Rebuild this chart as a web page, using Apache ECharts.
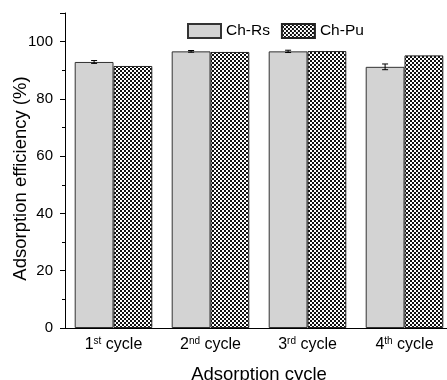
<!DOCTYPE html>
<html><head><meta charset="utf-8">
<script src="https://cdn.jsdelivr.net/npm/echarts@6/dist/echarts.min.js"></script>
<style>html,body{margin:0;padding:0;background:#fff}#c{width:447px;height:380px}</style>
</head><body><div id="c"></div>
<script>
var categories = ['1{sup|st} cycle', '2{sup|nd} cycle', '3{sup|rd} cycle', '4{sup|th} cycle'];
var chRs = [92.9, 96.6, 96.6, 91.2];
var chRsErr = [0.5, 0.3, 0.4, 1.0];
var chPu = [91.5, 96.4, 96.7, 95.2];
var yTicks = [0, 20, 40, 60, 80, 100];

var pc = document.createElement('canvas');
pc.width = 4; pc.height = 4;
var g = pc.getContext('2d');
g.fillStyle = '#111'; g.fillRect(0, 0, 4, 4);
g.fillStyle = '#fff';
g.fillRect(0, 0, 2, 2); g.fillRect(2, 2, 2, 2);
var pattern = { image: pc, repeat: 'repeat' };

var font = 'Liberation Sans, Arial, sans-serif';
var chart = echarts.init(document.getElementById('c'), null, { renderer: 'canvas' });
var errData = chRs.map(function (v, i) { return [i, v, chRsErr[i]]; });

chart.setOption({
  animation: false,
  textStyle: { fontFamily: font },
  grid: { left: 65, top: 13, bottom: 52, width: 388, containLabel: false, outerBoundsMode: 'none' },
  legend: {
    left: 182, top: 18, itemWidth: 33, itemHeight: 14, itemGap: 11,
    textStyle: { fontSize: 15.5, color: '#000', fontFamily: font },
    data: [{ name: 'Ch-Rs', icon: 'rect' }, { name: 'Ch-Pu', icon: 'rect' }]
  },
  xAxis: [{
    type: 'category', data: categories,
    name: 'Adsorption cycle', nameLocation: 'middle', nameGap: 37, nameMoveOverlap: false,
    nameTextStyle: { fontSize: 18.5, color: '#000', fontFamily: font, verticalAlign: 'top' },
    axisLine: { lineStyle: { color: '#000', width: 1 } },
    axisTick: { alignWithLabel: true, length: 5, lineStyle: { color: '#000' } },
    axisLabel: {
      interval: 0, fontSize: 16, color: '#000', margin: 8, fontFamily: font,
      rich: { sup: { fontSize: 10, verticalAlign: 'top', padding: [0, 0, 8, 0], color: '#000', fontFamily: font } }
    }
  }, {
    type: 'category', data: categories, position: 'bottom',
    axisLine: { show: false }, axisLabel: { show: false },
    axisTick: { interval: 0, length: 4, lineStyle: { color: '#000' } }
  }],
  yAxis: {
    type: 'value', min: 0, max: 110, interval: 20,
    name: 'Adsorption efficiency (%)', nameLocation: 'middle', nameGap: 35, nameMoveOverlap: false,
    nameTextStyle: { fontSize: 18.5, color: '#000', fontFamily: font, padding: [0, 16, 0, 0] },
    axisLine: { show: true, lineStyle: { color: '#000', width: 1 } },
    axisTick: { show: true, length: 5, lineStyle: { color: '#000' } },
    minorTick: { show: true, splitNumber: 2, length: 3, lineStyle: { color: '#000' } },
    splitLine: { show: false },
    axisLabel: { fontSize: 15, color: '#000', margin: 12, fontFamily: font,
      formatter: function (v) { return yTicks.indexOf(v) >= 0 ? String(v) : ''; } }
  },
  series: [{
    name: 'Ch-Rs', type: 'bar', data: chRs, barGap: '0%', barCategoryGap: '20%',
    itemStyle: { color: '#d3d3d3', borderColor: '#333', borderWidth: 1 }
  }, {
    name: 'Ch-Pu', type: 'bar', data: chPu,
    itemStyle: { color: pattern, borderColor: '#222', borderWidth: 1 }
  }, {
    type: 'custom', name: 'err', data: errData, z: 10,
    renderItem: function (params, api) {
      var i = api.value(0), v = api.value(1), e = api.value(2);
      var bw = api.size([1, 0])[0] * 0.8 / 2;
      var c = api.coord([i, v]);
      var x = c[0] - bw / 2;
      var top = api.coord([i, v + e])[1];
      var bot = api.coord([i, v - e])[1];
      var s = { stroke: '#000', lineWidth: 1 };
      return { type: 'group', children: [
        { type: 'line', shape: { x1: x, y1: top, x2: x, y2: bot }, style: s },
        { type: 'line', shape: { x1: x - 3, y1: top, x2: x + 3, y2: top }, style: s },
        { type: 'line', shape: { x1: x - 3, y1: bot, x2: x + 3, y2: bot }, style: s }
      ] };
    }
  }]
});
</script></body></html>
